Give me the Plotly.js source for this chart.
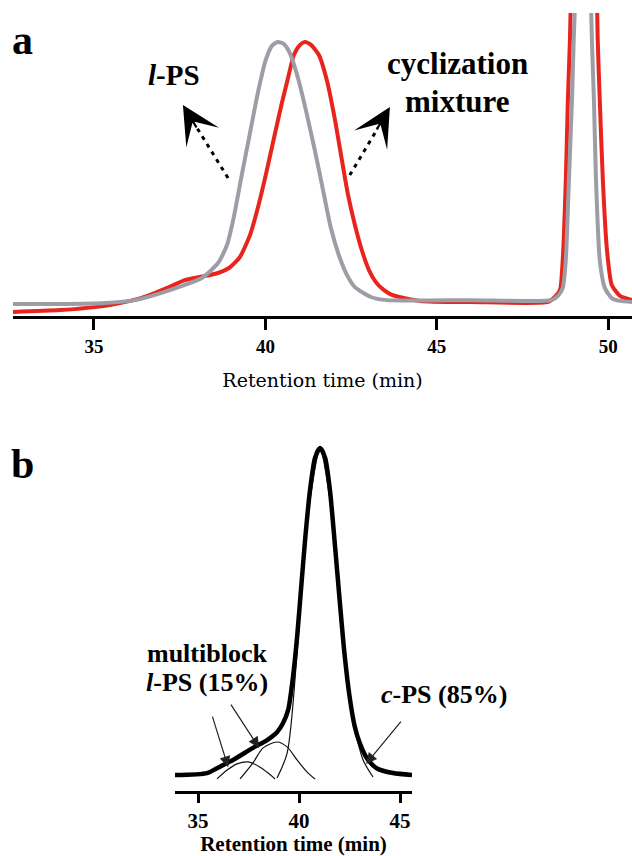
<!DOCTYPE html>
<html>
<head>
<meta charset="utf-8">
<script src="https://cdn.plot.ly/plotly-3.0.1.min.js"></script>
<style>html,body{margin:0;padding:0;background:#fff;}#chart{width:632px;height:856px;}</style>
</head>
<body>
<div id="chart"></div>
<script>
// ---------- Panel a: SEC traces (retention time, normalised intensity) ----------
const lpsTime = [32.64,34.01,35.32,36.20,36.95,37.65,38.15,38.62,38.88,39.08,39.31,39.55,39.78,40.01,40.19,40.36,40.54,40.71,40.95,41.18,41.44,41.68,41.91,42.14,42.38,42.61,43.08,43.54,46.00,48.35,48.53,48.67,48.76,48.85,48.94,48.99,49.08,49.27,49.46,49.52,49.58,49.64,49.75,49.90,50.10,50.34,50.69];
const lpsSignal = [-0.004,-0.004,0.000,0.011,0.038,0.069,0.096,0.153,0.222,0.330,0.490,0.651,0.805,0.931,0.985,1.000,0.992,0.958,0.862,0.739,0.586,0.433,0.287,0.184,0.107,0.061,0.023,0.011,0.011,0.011,0.027,0.057,0.165,0.471,0.778,1.008,1.352,3.000,1.352,1.008,0.778,0.471,0.165,0.057,0.019,0.008,0.004];

const cycTime = [32.64,34.01,35.32,36.37,37.19,37.65,38.09,38.62,38.95,39.25,39.55,39.78,40.01,40.25,40.48,40.66,40.83,41.01,41.15,41.33,41.56,41.79,42.03,42.23,42.41,42.61,42.81,43.02,43.22,43.45,43.69,44.50,46.00,48.24,48.44,48.59,48.67,48.76,48.82,48.88,48.94,49.29,49.64,49.69,49.75,49.84,49.96,50.10,50.34,50.69];
const cycSignal = [-0.034,-0.027,-0.011,0.019,0.061,0.088,0.100,0.115,0.135,0.175,0.260,0.365,0.490,0.632,0.766,0.862,0.950,0.989,1.000,0.989,0.950,0.854,0.701,0.548,0.414,0.299,0.203,0.126,0.080,0.050,0.031,0.008,0.004,0.004,0.023,0.050,0.165,0.471,0.778,1.008,1.352,3.000,1.352,1.008,0.778,0.471,0.203,0.069,0.027,0.011];

const tickValsA = [35,40,45,50];
const tickTextA = ['35','40','45','50'];

// ---------- Panel b: deconvolution of the cyclization mixture ----------
const mixTime = [33.86,35.45,35.94,36.73,37.72,38.42,38.91,39.21,39.46,39.70,39.90,40.10,40.30,40.54,40.79,41.04,41.29,41.53,41.78,42.03,42.25,42.50,42.75,43.02,43.37,43.86,44.65,45.59];
const mixSignal = [0.000,0.006,0.021,0.046,0.083,0.107,0.131,0.159,0.199,0.300,0.420,0.570,0.720,0.870,0.970,1.000,0.970,0.870,0.700,0.520,0.370,0.240,0.150,0.095,0.050,0.020,0.006,0.000];

const cpsTime = [38.91,39.41,39.90,40.15,40.54,41.04,41.53,41.93,42.13,42.45,42.67,43.17,43.66];
const cpsSignal = [-0.009,0.067,0.373,0.580,0.840,0.994,0.840,0.560,0.420,0.250,0.168,0.046,-0.006];

const block1Time = [37.08,37.72,38.22,38.91,39.41,39.90,40.40,40.79];
const block1Signal = [-0.012,0.037,0.083,0.101,0.086,0.046,0.009,-0.012];

const block2Time = [35.94,36.44,36.93,37.48,38.07,38.47,38.81];
const block2Signal = [-0.012,0.015,0.034,0.040,0.024,0.006,-0.012];

const tickValsB = [35,40,45];
const tickTextB = ['35','40','45'];

const RED = '#e8241e';
const GREY = '#9d9da6';
const SERIF = 'Liberation Serif';

const traces = [
  {x: cycTime, y: cycSignal, xaxis:'x', yaxis:'y', mode:'lines', line:{color:RED, width:4, shape:'spline', smoothing:0.6}, hoverinfo:'skip'},
  {x: lpsTime, y: lpsSignal, xaxis:'x', yaxis:'y', mode:'lines', line:{color:GREY, width:4, shape:'spline', smoothing:0.6}, hoverinfo:'skip'},
  {x: block2Time, y: block2Signal, xaxis:'x2', yaxis:'y2', mode:'lines', line:{color:'#111', width:1.2, shape:'spline', smoothing:0.8}, hoverinfo:'skip'},
  {x: block1Time, y: block1Signal, xaxis:'x2', yaxis:'y2', mode:'lines', line:{color:'#111', width:1.2, shape:'spline', smoothing:0.8}, hoverinfo:'skip'},
  {x: cpsTime, y: cpsSignal, xaxis:'x2', yaxis:'y2', mode:'lines', line:{color:'#111', width:1.2, shape:'spline', smoothing:0.8}, hoverinfo:'skip'},
  {x: mixTime, y: mixSignal, xaxis:'x2', yaxis:'y2', mode:'lines', line:{color:'#000', width:4.5, shape:'spline', smoothing:0.7}, hoverinfo:'skip'}
];

const txt = (t, x, y, size, extra) => Object.assign({
  text: t, x: x, y: y, xref:'paper', yref:'paper', showarrow:false,
  xanchor:'center', yanchor:'middle',
  font:{family:SERIF, size:size, color:'#000', weight:'bold'}
}, extra || {});

const headA = (x, y, ax, ay) => ({
  text:'', x:x, y:y, xref:'x', yref:'y', ax:ax, ay:ay, showarrow:true,
  arrowhead:3, arrowsize:2.9, arrowwidth:2.2, arrowcolor:'#000', standoff:0
});
const arrowB = (x, y, ax, ay) => ({
  text:'', x:x, y:y, xref:'x2', yref:'y2', axref:'x2', ayref:'y2', ax:ax, ay:ay, showarrow:true,
  arrowhead:2, arrowsize:1.8, arrowwidth:1.2, arrowcolor:'#222', standoff:0
});

const layout = {
  width:632, height:856,
  margin:{l:0, r:0, t:0, b:0},
  paper_bgcolor:'#fff', plot_bgcolor:'rgba(0,0,0,0)',
  showlegend:false,
  xaxis:{
    domain:[13/632, 1], range:[32.64, 50.69],
    showgrid:false, zeroline:false,
    showline:true, linecolor:'#000', linewidth:3,
    ticks:'outside', ticklen:11, tickwidth:3, tickcolor:'#000',
    tickvals:tickValsA, ticktext:tickTextA,
    tickfont:{family:SERIF, size:19, color:'#000', weight:'bold'},
    title:{text:'Retention time (min)', font:{family:'DejaVu Serif', size:19, color:'#000'}, standoff:18}
  },
  yaxis:{
    domain:[1-316/856, 1-13/856], range:[-0.0498, 1.111],
    showgrid:false, zeroline:false, showline:false, showticklabels:false, ticks:''
  },
  xaxis2:{
    anchor:'y2',
    domain:[175/632, 412/632], range:[33.86, 45.59],
    showgrid:false, zeroline:false,
    showline:true, linecolor:'#000', linewidth:3,
    ticks:'outside', ticklen:9, tickwidth:3, tickcolor:'#000',
    tickvals:tickValsB, ticktext:tickTextB,
    tickfont:{family:SERIF, size:21, color:'#000', weight:'bold'},
    title:{text:'Retention time (min)', font:{family:SERIF, size:21, color:'#000', weight:'bold'}, standoff:4}
  },
  yaxis2:{
    anchor:'x2',
    domain:[1-791/856, 1-440/856], range:[-0.0489, 1.0245],
    showgrid:false, zeroline:false, showline:false, showticklabels:false, ticks:''
  },
  shapes:[
    {type:'line', xref:'x', yref:'y', x0:38.91, y0:0.479, x1:37.97, y1:0.678, line:{color:'#000', width:3, dash:'4px,5px'}},
    {type:'line', xref:'x', yref:'y', x0:42.46, y0:0.490, x1:43.28, y1:0.670, line:{color:'#000', width:3, dash:'4px,5px'}}
  ],
  annotations:[
    txt('a', 22/632, 1-40/856, 42),
    txt('<i>l</i>-PS', 174/632, 1-74.5/856, 29),
    txt('cyclization', 457/632, 1-63/856, 31),
    txt('mixture', 457/632, 1-101/856, 31),
    headA(37.595, 0.759, 14.5, 24),
    headA(43.63, 0.751, -14, 24),
    txt('b', 22/632, 1-464/856, 42),
    txt('multiblock', 207/632, 1-653/856, 26),
    txt('<i>l</i>-PS (15%)', 207/632, 1-682/856, 26),
    txt('<i>c</i>-PS (85%)', 444/632, 1-694/856, 26),
    arrowB(36.49, 0.024, 35.69, 0.183),
    arrowB(38.02, 0.083, 36.58, 0.220),
    arrowB(43.32, 0.034, 45.10, 0.168)
  ]
};

Plotly.newPlot('chart', traces, layout, {staticPlot:true, displayModeBar:false});
</script>
</body>
</html>
